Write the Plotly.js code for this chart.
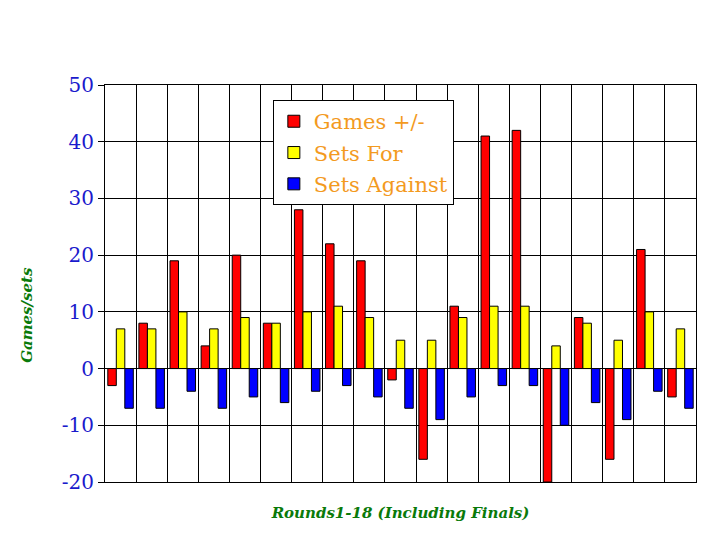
<!DOCTYPE html>
<html>
<head>
<meta charset="utf-8">
<script src="https://cdn.plot.ly/plotly-3.0.1.min.js"></script>
<style>
  html, body { margin: 0; padding: 0; background: #ffffff; }
  #chart { width: 720px; height: 540px; }
</style>
</head>
<body>
<div id="chart"></div>
<script>
// rounds 1-18 plus the final
var rounds = ['1', '2', '3', '4', '5', '6', '7', '8', '9', '10',
              '11', '12', '13', '14', '15', '16', '17', '18', 'F'];
var gamesDiff = [-3, 8, 19, 4, 20, 8, 28, 22, 19, -2, -16, 11, 41, 42, -20, 9, -16, 21, -5];
var setsFor = [7, 7, 10, 7, 9, 8, 10, 11, 9, 5, 5, 9, 11, 11, 4, 8, 5, 10, 7];
var setsAgainst = [-7, -7, -4, -7, -5, -6, -4, -3, -5, -7, -9, -5, -3, -3, -10, -6, -9, -4, -7];

// y ticks, written with a plain hyphen like the original
var yTickVals = [-20, -10, 0, 10, 20, 30, 40, 50];
var yTickText = ['-20', '-10', '0', '10', '20', '30', '40', '50'];

var serif = 'DejaVu Serif, Liberation Serif, serif';
var titleFont = { family: serif, size: 15, color: '#0a7a0a', weight: 'bold', style: 'italic' };

function barTrace(name, values, color, group) {
    return {
        type: 'bar',
        name: name,
        x: rounds,
        y: values,
        legendgroup: group,
        marker: { color: color, line: { color: '#000000', width: 1 } },
        hoverinfo: 'x+y+name'
    };
}

var data = [
    barTrace('Games +/-', gamesDiff, '#ff0000', 'g1'),
    barTrace('Sets For', setsFor, '#ffff00', 'g2'),
    barTrace('Sets Against', setsAgainst, '#0000ff', 'g3')
];

var layout = {
    width: 720,
    height: 540,
    margin: { l: 105, r: 24, t: 85, b: 58 },
    paper_bgcolor: '#ffffff',
    plot_bgcolor: '#ffffff',
    barmode: 'group',
    bargap: 0.18,
    bargroupgap: 0,
    showlegend: true,
    legend: {
        x: 0.284, y: 0.962,
        xanchor: 'left', yanchor: 'top',
        bgcolor: '#ffffff',
        bordercolor: '#000000',
        borderwidth: 1,
        tracegroupgap: 1,
        font: { family: serif, size: 21, color: '#f39a1e' }
    },
    xaxis: {
        type: 'category',
        tickson: 'boundaries',
        showticklabels: false,
        ticks: '',
        showgrid: true,
        gridcolor: '#000000',
        gridwidth: 1,
        showline: true,
        linecolor: '#000000',
        linewidth: 1,
        mirror: true,
        title: { text: 'Rounds1-18 (Including Finals)', font: titleFont, standoff: 25 }
    },
    yaxis: {
        range: [-20, 50],
        tickmode: 'array',
        tickvals: yTickVals,
        ticktext: yTickText,
        showgrid: true,
        gridcolor: '#000000',
        gridwidth: 1,
        zeroline: true,
        zerolinecolor: '#000000',
        zerolinewidth: 1,
        showline: true,
        linecolor: '#000000',
        linewidth: 1,
        mirror: true,
        ticks: 'outside',
        ticklen: 6,
        tickcolor: '#000000',
        tickfont: { family: serif, size: 20, color: '#1a1acc' }
    },
    // y title sits a little below the middle of the plot in the original
    annotations: [{
        text: 'Games/sets',
        textangle: -90,
        xref: 'paper', yref: 'paper',
        x: -0.131, y: 0.42,
        xanchor: 'center', yanchor: 'middle',
        showarrow: false,
        font: titleFont
    }]
};

Plotly.newPlot('chart', data, layout, { displayModeBar: false, staticPlot: true });
</script>
</body>
</html>
